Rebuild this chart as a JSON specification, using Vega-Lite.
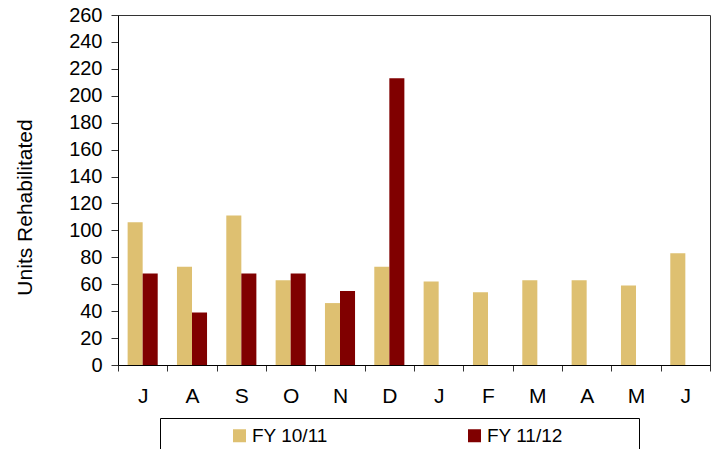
{
  "$schema": "https://vega.github.io/schema/vega-lite/v6.json",
  "width": 592,
  "height": 350,
  "autosize": "none",
  "padding": {"left": 118, "top": 15, "right": 5, "bottom": 84},
  "background": "#ffffff",
  "config": {
    "font": "Liberation Sans",
    "view": {"stroke": "#333333", "strokeWidth": 1}
  },
  "data": {
    "values": [
      {"month": "Jul", "series": "FY 10/11", "units": 106},
      {"month": "Aug", "series": "FY 10/11", "units": 73},
      {"month": "Sep", "series": "FY 10/11", "units": 111},
      {"month": "Oct", "series": "FY 10/11", "units": 63},
      {"month": "Nov", "series": "FY 10/11", "units": 46},
      {"month": "Dec", "series": "FY 10/11", "units": 73},
      {"month": "Jan", "series": "FY 10/11", "units": 62},
      {"month": "Feb", "series": "FY 10/11", "units": 54},
      {"month": "Mar", "series": "FY 10/11", "units": 63},
      {"month": "Apr", "series": "FY 10/11", "units": 63},
      {"month": "May", "series": "FY 10/11", "units": 59},
      {"month": "Jun", "series": "FY 10/11", "units": 83},
      {"month": "Jul", "series": "FY 11/12", "units": 68},
      {"month": "Aug", "series": "FY 11/12", "units": 39},
      {"month": "Sep", "series": "FY 11/12", "units": 68},
      {"month": "Oct", "series": "FY 11/12", "units": 68},
      {"month": "Nov", "series": "FY 11/12", "units": 55},
      {"month": "Dec", "series": "FY 11/12", "units": 213}
    ]
  },
  "mark": {"type": "bar"},
  "encoding": {
    "x": {
      "field": "month",
      "type": "nominal",
      "sort": ["Jul", "Aug", "Sep", "Oct", "Nov", "Dec", "Jan", "Feb", "Mar", "Apr", "May", "Jun"],
      "scale": {"paddingInner": 0, "paddingOuter": 0},
      "axis": {
        "title": null,
        "labelAngle": 0,
        "labelExpr": "substring(datum.label, 0, 1)",
        "tickBand": "extent",
        "labelFontSize": 21,
        "labelColor": "#000000",
        "tickSize": 6,
        "tickColor": "#333333",
        "domainColor": "#000000",
        "labelPadding": 14
      }
    },
    "xOffset": {
      "field": "series",
      "type": "nominal",
      "scale": {"domain": ["FY 10/11", "FY 11/12"], "paddingInner": 0, "paddingOuter": 0.64}
    },
    "y": {
      "field": "units",
      "type": "quantitative",
      "scale": {"domain": [0, 260]},
      "axis": {
        "title": "Units Rehabilitated",
        "titleFontSize": 21,
        "titleFontWeight": "normal",
        "titleColor": "#000000",
        "titleAngle": -90,
        "titleX": -93,
        "titleY": 192,
        "titleAlign": "center",
        "titleBaseline": "middle",
        "values": [0, 20, 40, 60, 80, 100, 120, 140, 160, 180, 200, 220, 240, 260],
        "grid": false,
        "labelFontSize": 20,
        "labelColor": "#000000",
        "tickSize": 7,
        "tickColor": "#333333",
        "domainColor": "#000000",
        "labelPadding": 9
      }
    },
    "color": {
      "field": "series",
      "type": "nominal",
      "scale": {"domain": ["FY 10/11", "FY 11/12"], "range": ["#DEC071", "#800000"]},
      "legend": {
        "title": " ",
        "titleOrient": "right",
        "titlePadding": 68,
        "titleFontSize": 10,
        "orient": "none",
        "legendX": 42,
        "legendY": 403,
        "direction": "horizontal",
        "strokeColor": "#000000",
        "padding": 8,
        "symbolType": "square",
        "symbolSize": 169,
        "symbolStrokeWidth": 0,
        "symbolOffset": 62,
        "labelFontSize": 19,
        "labelColor": "#000000",
        "labelOffset": 3,
        "columnPadding": 75
      }
    }
  }
}
